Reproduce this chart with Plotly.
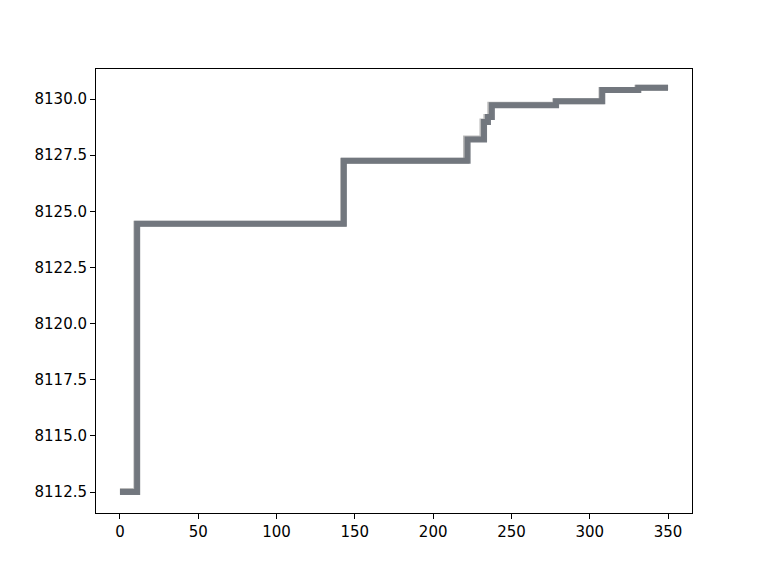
import plotly.graph_objects as go

# Step series (x = start of each level, y = level value)
step_x = [0, 11, 143, 222, 232.5, 235, 237.5, 278.5, 308, 331, 350]
step_y = [8112.5, 8124.45, 8127.25, 8128.2, 8128.98, 8129.2, 8129.73, 8129.9, 8130.4, 8130.5, 8130.5]

# Slightly offset companion series (lighter, overlapping)
alt_x = [0, 10.5, 142.5, 221, 231.5, 234, 236.5, 278, 307.5, 330.5, 350]
alt_y = [8112.55, 8124.45, 8127.25, 8128.25, 8129.0, 8129.2, 8129.75, 8129.9, 8130.4, 8130.5, 8130.5]

x_ticks = [0, 50, 100, 150, 200, 250, 300, 350]
y_ticks = [8112.5, 8115.0, 8117.5, 8120.0, 8122.5, 8125.0, 8127.5, 8130.0]

fig = go.Figure()
fig.add_trace(go.Scatter(x=alt_x, y=alt_y, mode="lines", line_shape="hv",
                         line=dict(color="rgba(140,140,140,0.6)", width=6),
                         showlegend=False, hoverinfo="skip"))
fig.add_trace(go.Scatter(x=step_x, y=step_y, mode="lines", line_shape="hv",
                         line=dict(color="rgba(110,115,122,0.95)", width=6),
                         showlegend=False))

axis_common = dict(showgrid=False, zeroline=False, showline=True, linecolor="black",
                   linewidth=1, mirror=True, ticks="outside", ticklen=5, tickwidth=1,
                   tickcolor="black", tickfont=dict(family="DejaVu Sans", size=15, color="black"))

fig.update_xaxes(range=[-15.3, 365.3], tickvals=x_ticks,
                 ticktext=[str(v) for v in x_ticks], **axis_common)
fig.update_yaxes(range=[8111.57, 8131.34], tickvals=y_ticks,
                 ticktext=[f"{v:.1f}" for v in y_ticks], **axis_common)

fig.update_layout(width=768, height=576, plot_bgcolor="white", paper_bgcolor="white",
                  margin=dict(l=88, r=84, t=61, b=71, pad=0),
                  font=dict(family="DejaVu Sans"))

fig.write_html("out.html")
